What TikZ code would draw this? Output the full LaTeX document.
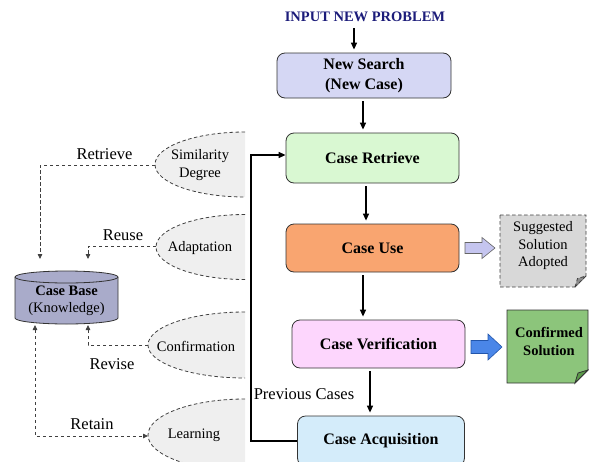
\documentclass[tikz,border=0pt]{standalone}
\usepackage{fontspec}
\setmainfont{Liberation Serif}
\usetikzlibrary{arrows.meta,calc}
\definecolor{inputblue}{HTML}{1C1C7A}
\definecolor{nsfill}{HTML}{D5D7F4}
\definecolor{crfill}{HTML}{D9F8D2}
\definecolor{cufill}{HTML}{F9A570}
\definecolor{cvfill}{HTML}{FDD6FD}
\definecolor{cafill}{HTML}{D4ECFA}
\definecolor{efill}{HTML}{EFEFEF}
\definecolor{cbfill}{HTML}{A9ABCA}
\definecolor{sugfill}{HTML}{D8D8D8}
\definecolor{cfill}{HTML}{8CC57B}
\definecolor{cfold}{HTML}{5A9A48}
\definecolor{baonefill}{HTML}{C5C5EF}
\definecolor{batwofill}{HTML}{4A86E8}
\definecolor{batwodraw}{HTML}{2255AA}
\begin{document}
\begin{tikzpicture}[x=1pt,y=-1pt,
  box/.style={draw=black!80, line width=0.8pt, rounded corners=8pt,
    minimum width=173pt, minimum height=48pt, inner sep=0pt, align=center,
    font=\fontsize{16}{20}\selectfont\bfseries},
  flow/.style={line width=1.3pt, shorten <=3pt, shorten >=3pt,
    -{Triangle[length=7pt,width=6pt]}},
  dline/.style={draw=black!75, line width=0.8pt, dash pattern=on 3.5pt off 2.5pt},
  dtip/.style={-{Triangle[length=5pt,width=4.5pt]}},
  lab/.style={font=\fontsize{16.5}{18}\selectfont},
  etext/.style={font=\fontsize{14.5}{17.5}\selectfont, align=center},
]
\useasboundingbox (0,0) rectangle (589,461);
\clip (0,0) rectangle (589,461);

% ---------- main flow ----------
\node[font=\fontsize{14.5}{16}\selectfont\bfseries, text=inputblue] (inp) at (365,17) {INPUT NEW PROBLEM};
\node[box, fill=nsfill, minimum width=174pt, minimum height=45pt] (ns) at (364,75.5) {New Search\\(New Case)};
\node[box, fill=crfill, minimum height=50pt] (cr) at (372.5,158) {Case Retrieve};
\node[box, fill=cufill] (cu) at (372.5,248) {Case Use};
\node[box, fill=cvfill] (cv) at (378.5,344) {Case Verification};
\node[box, fill=cafill, minimum width=167pt, minimum height=50pt] (ca) at (381,441) {Case Acquisition};

\draw[flow] ([xshift=-11pt]inp.south) -- ([xshift=-10pt]ns.north);
\draw[flow] ([xshift=-1pt]ns.south) -- ([xshift=-1pt]ns.south |- cr.north);
\draw[flow] ([xshift=-6.5pt]cr.south) -- ([xshift=-6.5pt]cr.south |- cu.north);
\draw[flow] ([xshift=-9.5pt]cu.south) -- ([xshift=-9.5pt]cu.south |- cv.north);
\draw[flow] ([xshift=-8.5pt]cv.south) -- ([xshift=-8.5pt]cv.south |- ca.north);
\draw[flow, shorten <=0pt, shorten >=0pt] (ca.west) -- ++(-46,0) |- ([yshift=3pt]cr.west);
\node[lab] (prev) at (304,394) {Previous Cases};

% ---------- half ellipses ----------
\foreach \cy/\rx/\ry in {164.5/90/32.5, 247/89/32.5, 345/97/33, 435/97/36} {
  \fill[efill] (245,{\cy-\ry}) arc[start angle=90, end angle=270, x radius=\rx pt, y radius=\ry pt] -- cycle;
  \draw[dline] (245,{\cy-\ry}) arc[start angle=90, end angle=270, x radius=\rx pt, y radius=\ry pt];
}
\node[etext] (sim) at (200,165) {Similarity\\Degree};
\node[etext] (ada) at (200,248) {Adaptation};
\node[etext] (con) at (196,346) {Confirmation};
\node[etext] (lea) at (194,435) {Learning};
\coordinate (simL) at (155,165);
\coordinate (adaL) at (156,246);
\coordinate (conL) at (148,345);
\coordinate (leaL) at (148,436);

% ---------- case base cylinder ----------
\draw[draw=black!80, line width=0.8pt, fill=cbfill]
  (15,277) -- (15,318) arc[start angle=180, end angle=360, x radius=51.5pt, y radius=6pt]
  -- (118,277) arc[start angle=0, end angle=180, x radius=51.5pt, y radius=6pt] -- cycle;
\draw[draw=black!80, line width=0.8pt]
  (15,277) arc[start angle=180, end angle=360, x radius=51.5pt, y radius=6pt];
\node[font=\fontsize{14.5}{17}\selectfont, align=center] (cb) at (66.5,301) {\textbf{Case Base}\\(Knowledge)};
\coordinate (cbT) at (66.5,259);
\coordinate (cbB) at (66.5,325);

% ---------- dashed connectors ----------
\draw[dline, dtip] (simL) -| ([xshift=-26.5pt]cbT);
\draw[dline, dtip] (adaL) -| ([xshift=21.5pt]cbT);
\draw[dline, dtip] (conL) -| ([xshift=21.5pt]cbB);
\draw[dline, {Triangle[length=5pt,width=4.5pt]}-{Triangle[length=5pt,width=4.5pt]}] ([xshift=-31.5pt]cbB) |- (leaL);
\node[lab] (lret) at (104.5,154) {Retrieve};
\node[lab] (lreu) at (123,235) {Reuse};
\node[lab] (lrev) at (112,364) {Revise};
\node[lab] (lrt) at (92,424) {Retain};

% ---------- outputs ----------
\draw[fill=baonefill, draw=black!60, line width=0.6pt]
  (465,242.5) -- (482,242.5) -- (482,237.5) -- (495,248) -- (482,258.5) -- (482,253.5) -- (465,253.5) -- cycle;
\draw[dline, fill=sugfill] (500,215) -- (586,215) -- (586,276) -- (575,287) -- (500,287) -- cycle;
\draw[dline, fill=black!45] (575,287) -- (577.5,278.5) -- (586,276) -- cycle;
\node[etext] (sug) at (543,246) {Suggested\\Solution\\Adopted};

\draw[fill=batwofill, draw=batwodraw, line width=0.6pt]
  (471,340.5) -- (488,340.5) -- (488,334) -- (502,347) -- (488,360) -- (488,353.5) -- (471,353.5) -- cycle;
\draw[draw=black!80, line width=0.8pt, fill=cfill] (507,310) -- (588,310) -- (588,370) -- (575,383) -- (507,383) -- cycle;
\draw[draw=black!80, line width=0.8pt, fill=cfold] (575,383) -- (578,373) -- (588,370) -- cycle;
\node[etext, font=\fontsize{14.5}{17.5}\selectfont\bfseries] (cs) at (549,341.5) {Confirmed\\Solution};
\end{tikzpicture}
\end{document}
